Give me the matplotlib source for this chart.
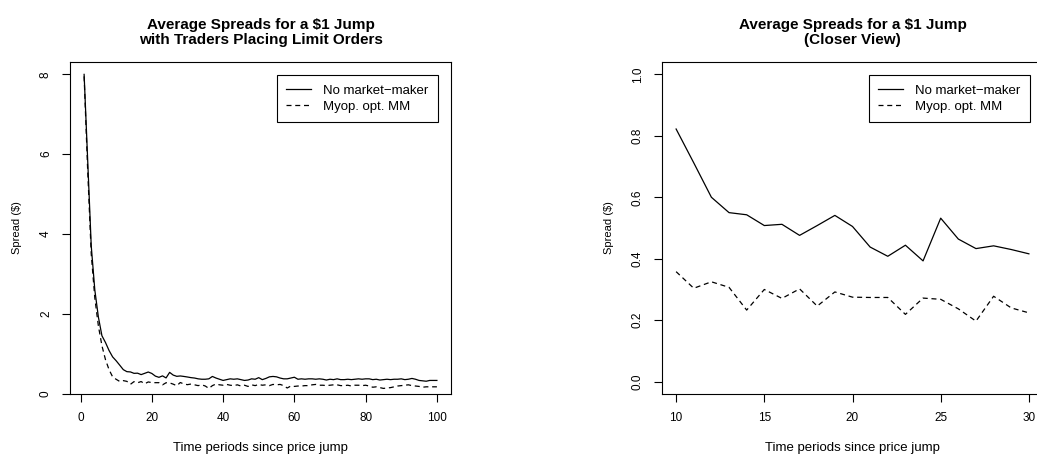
import matplotlib
matplotlib.use("Agg")
import matplotlib.pyplot as plt
import numpy as np

plt.rcParams['font.family'] = ['Liberation Sans', 'DejaVu Sans']

# periods since the jump
periods = np.arange(1, 101)

# average spread, no market-maker
no_mm = [8.00, 5.85, 3.70, 2.60, 1.92, 1.45, 1.28, 1.08, 0.92, 0.822,
         0.712, 0.600, 0.550, 0.543, 0.508, 0.512, 0.476, 0.508, 0.541, 0.505,
         0.438, 0.408, 0.444, 0.393, 0.532, 0.464, 0.433, 0.442, 0.430, 0.416,
         0.40, 0.39, 0.37, 0.36, 0.36, 0.37, 0.43, 0.39, 0.36, 0.33,
         0.35, 0.37, 0.36, 0.37, 0.35, 0.33, 0.34, 0.37, 0.36, 0.40,
         0.35, 0.38, 0.42, 0.43, 0.42, 0.39, 0.37, 0.37, 0.39, 0.41,
         0.36, 0.37, 0.36, 0.37, 0.37, 0.36, 0.37, 0.36, 0.34, 0.36,
         0.35, 0.37, 0.35, 0.35, 0.36, 0.35, 0.36, 0.37, 0.36, 0.37,
         0.37, 0.35, 0.36, 0.34, 0.35, 0.36, 0.35, 0.36, 0.36, 0.37,
         0.35, 0.36, 0.38, 0.36, 0.33, 0.32, 0.31, 0.33, 0.33, 0.33]

# average spread, myopically optimal market-maker
myop_mm = [7.95, 5.60, 3.50, 2.40, 1.70, 1.20, 0.85, 0.60, 0.42, 0.358,
           0.304, 0.325, 0.307, 0.233, 0.300, 0.271, 0.302, 0.246, 0.292, 0.275,
           0.274, 0.274, 0.219, 0.272, 0.268, 0.237, 0.197, 0.278, 0.240, 0.224,
           0.24, 0.22, 0.20, 0.22, 0.19, 0.13, 0.20, 0.24, 0.22, 0.21,
           0.23, 0.21, 0.20, 0.22, 0.19, 0.21, 0.18, 0.22, 0.20, 0.23,
           0.21, 0.22, 0.20, 0.23, 0.22, 0.23, 0.20, 0.14, 0.19, 0.18,
           0.19, 0.19, 0.20, 0.20, 0.22, 0.23, 0.21, 0.21, 0.20, 0.21,
           0.22, 0.22, 0.20, 0.20, 0.21, 0.19, 0.21, 0.21, 0.20, 0.21,
           0.19, 0.16, 0.17, 0.15, 0.13, 0.14, 0.15, 0.17, 0.19, 0.20,
           0.21, 0.22, 0.20, 0.19, 0.18, 0.16, 0.17, 0.17, 0.17, 0.17]

left_xticks = [0, 20, 40, 60, 80, 100]
left_yticks = [0, 2, 4, 6, 8]
right_xticks = [10, 15, 20, 25, 30]
right_yticks = [0.0, 0.2, 0.4, 0.6, 0.8, 1.0]

W, H = 1037, 457
fig = plt.figure(figsize=(W / 100, H / 100), dpi=100)


def rbox(x0, y0, x1, y1):
    # pixel box (top-left origin) -> figure fraction
    return [x0 / W, 1 - y1 / H, (x1 - x0) / W, (y1 - y0) / H]


def style_axes(ax):
    for s in ax.spines.values():
        s.set_linewidth(0.8)
    ax.tick_params(direction='out', length=6, width=0.8, labelsize=8.5, pad=7)
    for lab in ax.get_yticklabels():
        lab.set_rotation(90)
        lab.set_va('center')


def add_legend(ax):
    leg = ax.legend(loc='upper right', fontsize=9.5, fancybox=False, framealpha=1,
                    edgecolor='black', handlelength=1.9, handletextpad=0.9,
                    borderaxespad=1.0, borderpad=0.7, labelspacing=0.3)
    leg.get_frame().set_linewidth(0.8)


ax1 = fig.add_axes(rbox(70, 62, 451, 394))
ax1.plot(periods, no_mm, color='black', lw=0.9, label='No market\u2212maker')
ax1.plot(periods, myop_mm, color='black', lw=0.9, ls=(0, (4, 3)), label='Myop. opt. MM')
ax1.set_xlim(1 - 3.96, 100 + 3.96)
ax1.set_ylim(-0.01, 8.31)
ax1.set_xticks(left_xticks)
ax1.set_yticks(left_yticks)
ax1.set_xticklabels([str(v) for v in left_xticks])
ax1.set_yticklabels([str(v) for v in left_yticks])
style_axes(ax1)
ax1.set_title('Average Spreads for a $1 Jump\nwith Traders Placing Limit Orders',
              fontsize=11, fontweight='bold', pad=13, linespacing=1.1)
ax1.set_xlabel('Time periods since price jump', fontsize=9.5, labelpad=13)
ax1.set_ylabel('Spread ($)', fontsize=8, labelpad=13)
add_legend(ax1)

# closer view, periods 10..30
sel = slice(9, 30)
ax2 = fig.add_axes(rbox(662, 62, 1043, 394))
ax2.plot(periods[sel], no_mm[sel], color='black', lw=0.9, label='No market\u2212maker')
ax2.plot(periods[sel], myop_mm[sel], color='black', lw=0.9, ls=(0, (4, 3)), label='Myop. opt. MM')
ax2.set_xlim(10 - 0.8, 30 + 0.8)
ax2.set_ylim(-0.04, 1.04)
ax2.set_xticks(right_xticks)
ax2.set_yticks(right_yticks)
ax2.set_xticklabels([str(v) for v in right_xticks])
ax2.set_yticklabels(['%.1f' % v for v in right_yticks])
style_axes(ax2)
ax2.set_title('Average Spreads for a $1 Jump\n(Closer View)',
              fontsize=11, fontweight='bold', pad=13, linespacing=1.1)
ax2.set_xlabel('Time periods since price jump', fontsize=9.5, labelpad=13)
ax2.set_ylabel('Spread ($)', fontsize=8, labelpad=13)
add_legend(ax2)

fig.savefig('out.png', dpi=100)
